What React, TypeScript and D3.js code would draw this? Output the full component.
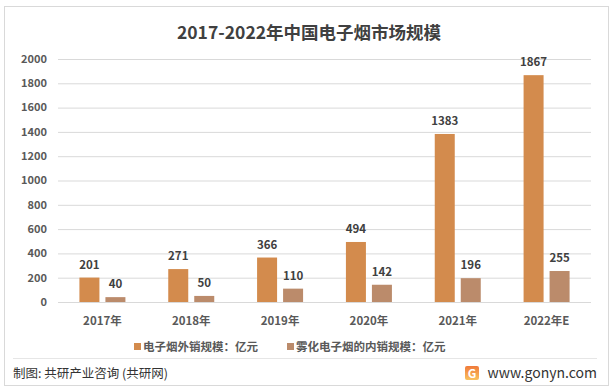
import React, { useEffect, useRef } from 'react';
import * as d3 from 'd3';

const years = ['2017年', '2018年', '2019年', '2020年', '2021年', '2022年E'];
const exportScale = [201, 271, 366, 494, 1383, 1867];
const domesticScale = [40, 50, 110, 142, 196, 255];
const yTicks = [0, 200, 400, 600, 800, 1000, 1200, 1400, 1600, 1800, 2000];
const seriesNames = ['电子烟外销规模：亿元', '雾化电子烟的内销规模：亿元'];
const colors = ['#D38B4D', '#BB8B6B'];

const W = 614;
const H = 392;
const FONT = '"Microsoft YaHei", "Noto Sans CJK SC", "DejaVu Sans", sans-serif';

const App: React.FC = () => {
  const ref = useRef<SVGSVGElement>(null);

  useEffect(() => {
    if (!ref.current) return;
    const svg = d3.select(ref.current);
    svg.selectAll('*').remove();

    const margin = { top: 59, right: 23, bottom: 90, left: 58 };
    const plotW = W - margin.left - margin.right;
    const plotH = H - margin.top - margin.bottom;

    // frame
    svg.append('rect').attr('width', W).attr('height', H).attr('fill', '#fff');
    svg.append('rect')
      .attr('x', 4.5).attr('y', 6.5).attr('width', 604).attr('height', 379)
      .attr('fill', 'none').attr('stroke', '#d9d9d9');

    // title
    svg.append('text')
      .attr('x', W / 2 + 2).attr('y', 39)
      .attr('text-anchor', 'middle')
      .attr('fill', '#404040')
      .style('font-family', FONT)
      .style('font-size', '17.5px')
      .style('font-weight', 'bold')
      .text('2017-2022年中国电子烟市场规模');

    const g = svg.append('g').attr('transform', `translate(${margin.left},${margin.top})`);

    const x0 = d3.scaleBand().domain(years).range([0, plotW]);
    const y = d3.scaleLinear().domain([0, 2000]).range([plotH, 0]);

    // grid
    g.append('g')
      .call(d3.axisLeft(y).tickValues(yTicks).tickSize(-plotW).tickFormat(() => ''))
      .call(s => s.select('.domain').remove())
      .call(s => s.selectAll('line').attr('stroke', '#d9d9d9'));

    // y labels
    g.append('g')
      .selectAll('text')
      .data(yTicks)
      .join('text')
      .attr('x', -11)
      .attr('y', d => y(d))
      .attr('dy', '0.35em')
      .attr('text-anchor', 'end')
      .attr('fill', '#595959')
      .style('font-family', FONT)
      .style('font-size', '11px')
      .style('font-weight', 'bold')
      .text(d => d);

    const barW = 20;
    const gap = 6;
    const series = [exportScale, domesticScale];

    series.forEach((vals, si) => {
      const xPos = (i: number) =>
        (x0(years[i]) as number) + x0.bandwidth() / 2 - (barW * 2 + gap) / 2 + si * (barW + gap);
      g.append('g')
        .selectAll('rect')
        .data(vals)
        .join('rect')
        .attr('x', (d, i) => xPos(i))
        .attr('y', d => y(d))
        .attr('width', barW)
        .attr('height', d => plotH - y(d))
        .attr('fill', colors[si]);
      g.append('g')
        .selectAll('text')
        .data(vals)
        .join('text')
        .attr('x', (d, i) => xPos(i) + barW / 2)
        .attr('y', d => y(d) - 9)
        .attr('text-anchor', 'middle')
        .attr('fill', '#404040')
        .style('font-family', FONT)
        .style('font-size', '11.5px')
        .style('font-weight', 'bold')
        .text(d => d);
    });

    // x labels
    g.append('g')
      .selectAll('text')
      .data(years)
      .join('text')
      .attr('x', d => (x0(d) as number) + x0.bandwidth() / 2)
      .attr('y', plotH + 23)
      .attr('text-anchor', 'middle')
      .attr('fill', '#595959')
      .style('font-family', FONT)
      .style('font-size', '11.5px')
      .style('font-weight', 'bold')
      .text(d => d);

    // legend
    const legX = [134, 287];
    seriesNames.forEach((name, i) => {
      svg.append('rect')
        .attr('x', legX[i]).attr('y', 343).attr('width', 7).attr('height', 7)
        .attr('fill', colors[i]);
      svg.append('text')
        .attr('x', legX[i] + 9).attr('y', 351)
        .attr('fill', '#595959')
        .style('font-family', FONT)
        .style('font-size', '11.5px')
        .style('font-weight', 'bold')
        .text(name);
    });

    // footer
    svg.append('line')
      .attr('x1', 13).attr('x2', 597).attr('y1', 358.5).attr('y2', 358.5)
      .attr('stroke', '#e6e6e6');
    svg.append('text')
      .attr('x', 13).attr('y', 378)
      .attr('fill', '#333')
      .style('font-family', FONT)
      .style('font-size', '12.5px')
      .text('制图: 共研产业咨询 (共研网)');

    const grad = svg.append('defs').append('linearGradient')
      .attr('id', 'logoGrad').attr('x1', 0).attr('y1', 0).attr('x2', 0).attr('y2', 1);
    grad.append('stop').attr('offset', '0%').attr('stop-color', '#F07A3A');
    grad.append('stop').attr('offset', '100%').attr('stop-color', '#F9C25E');
    const logo = svg.append('g').attr('transform', 'translate(465,366)');
    logo.append('rect').attr('width', 14).attr('height', 14).attr('rx', 2).attr('fill', 'url(#logoGrad)');
    logo.append('text')
      .attr('x', 7).attr('y', 11.5).attr('text-anchor', 'middle')
      .attr('fill', '#fff')
      .style('font-family', FONT)
      .style('font-size', '12px')
      .style('font-weight', 'bold')
      .text('G');
    svg.append('text')
      .attr('x', 597).attr('y', 378)
      .attr('text-anchor', 'end')
      .attr('fill', '#333')
      .style('font-family', FONT)
      .style('font-size', '14px')
      .text('www.gonyn.com');
  }, []);

  return (
    <div style={{ position: 'fixed', left: 0, top: 0, width: W, height: H }}>
      <svg ref={ref} width={W} height={H} />
    </div>
  );
};

export default App;
